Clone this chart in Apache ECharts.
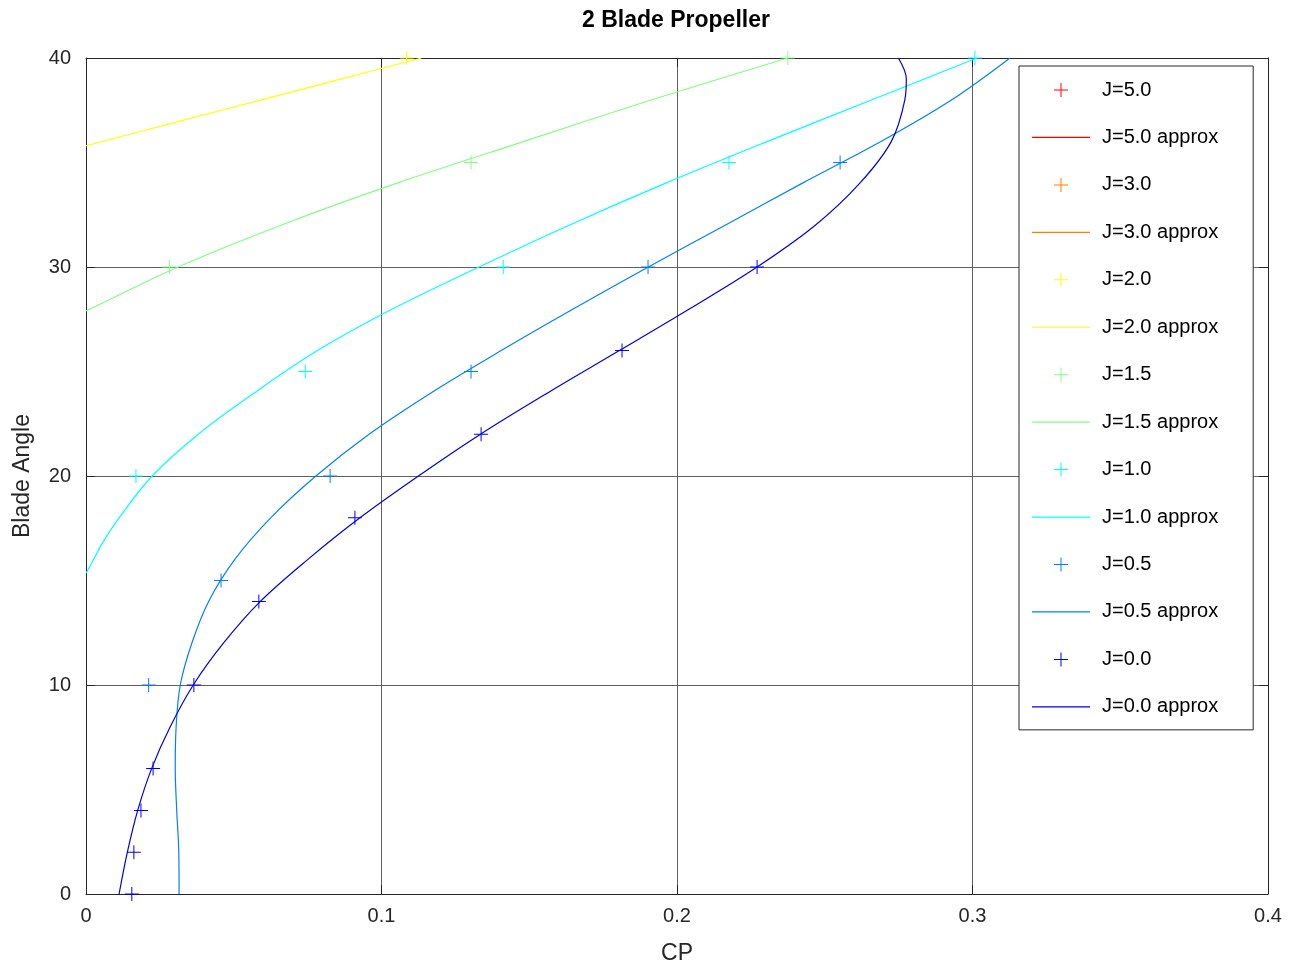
<!DOCTYPE html>
<html>
<head>
<meta charset="utf-8">
<script src="https://cdn.jsdelivr.net/npm/echarts@6/dist/echarts.min.js"></script>
<style>
html,body{margin:0;padding:0;background:#fff;}
#chart{width:1301px;height:970px;}
</style>
</head>
<body>
<div id="chart"></div>
<script>
// ---- data (CP, blade angle in degrees) ----
const xTicks = [0, 0.1, 0.2, 0.3, 0.4];
const yTicks = [0, 10, 20, 30, 40];

// measured points (markers)
const j50Cp = [];            const j50Ang = [];
const j30Cp = [];            const j30Ang = [];
const j20Cp = [0.1085];      const j20Ang = [40];
const j15Cp = [0.0282, 0.1303, 0.2375];
const j15Ang = [30, 35, 40];
const j10Cp = [0.0169, 0.0742, 0.1412, 0.2176, 0.3008];
const j10Ang = [20, 25, 30, 35, 40];
const j05Cp = [0.0212, 0.0457, 0.0826, 0.1303, 0.1902, 0.2552];
const j05Ang = [10, 15, 20, 25, 30, 35];
const j00Cp = [0.0155, 0.0162, 0.0186, 0.0227, 0.0365, 0.0585, 0.0910, 0.1337, 0.1814, 0.2271];
const j00Ang = [0, 2, 4, 6, 10, 14, 18, 22, 26, 30];

// approximation curves
const a50Cp = [];  const a50Ang = [];
const a30Cp = [];  const a30Ang = [];
const a20Cp = [0, 0.0324, 0.0594, 0.0864, 0.1135];
const a20Ang = [35.8, 37, 38, 39, 40];
const a15Cp = [0, 0.0015, 0.0312, 0.0660, 0.1050, 0.1480, 0.1915, 0.2375];
const a15Ang = [27.9, 28, 30, 32, 34, 36, 38, 40];
const a10Cp = [0, 0.0018, 0.0056, 0.0112, 0.0224, 0.0380, 0.0572, 0.0783, 0.1038, 0.1330, 0.1635, 0.1960, 0.2305, 0.2660, 0.3015];
const a10Ang = [15.35, 15.8, 16.8, 18, 20, 22, 24, 26, 28, 30, 32, 34, 36, 38, 40];
const a05Cp = [0.0315, 0.0314, 0.0307, 0.0302, 0.0305, 0.0319, 0.0358, 0.0415, 0.0503, 0.0625, 0.0778, 0.0958, 0.1170, 0.1405, 0.1650, 0.1903, 0.2163, 0.2423, 0.2690, 0.2930, 0.3127];
const a05Ang = [0, 2, 4, 6, 8, 10, 12, 14, 16, 18, 20, 22, 24, 26, 28, 30, 32, 34, 36, 38, 40];
const a00Cp = [0.0112, 0.0140, 0.0175, 0.0222, 0.0285, 0.0363, 0.0465, 0.0590, 0.0750, 0.0927, 0.1125, 0.1335, 0.1565, 0.1805, 0.2043, 0.2271, 0.2468, 0.2618, 0.2725, 0.2771, 0.2776, 0.2749];
const a00Ang = [0, 2, 4, 6, 8, 10, 12, 14, 16, 18, 20, 22, 24, 26, 28, 30, 32, 34, 36, 38, 39, 40];

const names = ['J=5.0', 'J=3.0', 'J=2.0', 'J=1.5', 'J=1.0', 'J=0.5', 'J=0.0'];
const colors = ['#ff0000', '#ff8000', '#ffff00', '#80ff80', '#00ffff', '#0080ff', '#0000ff'];
const lineColors = ['#ff0000', '#ff8000', '#ffff00', '#80ff80', '#00ffff', '#0080ff', '#0000dd'];
const markCp = [j50Cp, j30Cp, j20Cp, j15Cp, j10Cp, j05Cp, j00Cp];
const markAng = [j50Ang, j30Ang, j20Ang, j15Ang, j10Ang, j05Ang, j00Ang];
const apxCp = [a50Cp, a30Cp, a20Cp, a15Cp, a10Cp, a05Cp, a00Cp];
const apxAng = [a50Ang, a30Ang, a20Ang, a15Ang, a10Ang, a05Ang, a00Ang];

const zip = (xs, ys) => xs.map((x, i) => [x, ys[i]]);
const plus = 'path://M6.5,0h1v6.5h6.5v1h-6.5v6.5h-1v-6.5h-6.5v-1h6.5z';
const dash = 'path://M0,0H58V1.2H0Z';

const series = [];
const legendData = [];
names.forEach((n, k) => {
  series.push({
    name: n, type: 'scatter', data: zip(markCp[k], markAng[k]),
    symbol: plus, symbolSize: 14, symbolKeepAspect: true, clip: false,
    itemStyle: { color: colors[k], opacity: 1 }, z: 3
  });
  series.push({
    name: n + ' approx', type: 'line', data: zip(apxCp[k], apxAng[k]),
    symbol: 'none', smooth: 0.35, clip: true,
    lineStyle: { color: lineColors[k], width: 1.2 }, itemStyle: { color: lineColors[k] }, z: 2
  });
  legendData.push({ name: n }, { name: n + ' approx', icon: dash, itemStyle: { color: lineColors[k], borderWidth: 0 } });
});

const axisCol = '#262626';
const gridCol = '#606060';
const font = '"Liberation Sans", Arial, sans-serif';

const chart = echarts.init(document.getElementById('chart'), null, { renderer: 'canvas' });
chart.setOption({
  animation: false,
  backgroundColor: '#ffffff',
  title: {
    text: '2 Blade Propeller', left: 582, top: 9, padding: 0,
    textStyle: { fontFamily: font, fontWeight: 'bold', fontSize: 23, color: '#000' }
  },
  grid: { left: 86, right: 33, top: 58, bottom: 76, containLabel: false },
  legend: {
    orient: 'vertical', left: 1019, top: 66,
    data: legendData,
    itemWidth: 58, itemHeight: 14, itemGap: 27.45,
    padding: [14, 35, 13, 13],
    backgroundColor: '#ffffff', borderColor: '#262626', borderWidth: 1, borderRadius: 0,
    symbolKeepAspect: true,
    textStyle: { fontFamily: font, fontSize: 20, color: '#000', lineHeight: 20, padding: [0, 0, 0, 7] },
    selectedMode: false
  },
  xAxis: [{
    type: 'value', min: xTicks[0], max: xTicks[xTicks.length - 1], interval: 0.1,
    name: 'CP', nameLocation: 'middle', nameGap: 48,
    nameTextStyle: { fontFamily: font, fontSize: 23, color: axisCol },
    axisLine: { show: true, onZero: false, lineStyle: { color: axisCol, width: 1 } },
    axisTick: { show: true, inside: true, length: 9, lineStyle: { color: axisCol } },
    axisLabel: { fontFamily: font, fontSize: 20, color: axisCol, margin: 12 },
    splitLine: { show: true, lineStyle: { color: gridCol, width: 1 } }
  }, {
    type: 'value', position: 'top', min: xTicks[0], max: xTicks[xTicks.length - 1], interval: 0.1,
    axisLine: { show: true, onZero: false, lineStyle: { color: axisCol, width: 1 } },
    axisTick: { show: true, inside: true, length: 9, lineStyle: { color: axisCol } },
    axisLabel: { show: false }, splitLine: { show: false }
  }],
  yAxis: [{
    type: 'value', min: yTicks[0], max: yTicks[yTicks.length - 1], interval: 10,
    name: 'Blade Angle', nameLocation: 'middle', nameGap: 52, nameRotate: 90,
    nameTextStyle: { fontFamily: font, fontSize: 23, color: axisCol },
    axisLine: { show: true, onZero: false, lineStyle: { color: axisCol, width: 1 } },
    axisTick: { show: true, inside: true, length: 9, lineStyle: { color: axisCol } },
    axisLabel: { fontFamily: font, fontSize: 20, color: axisCol, margin: 15 },
    splitLine: { show: true, lineStyle: { color: gridCol, width: 1 } }
  }, {
    type: 'value', position: 'right', min: yTicks[0], max: yTicks[yTicks.length - 1], interval: 10,
    axisLine: { show: true, onZero: false, lineStyle: { color: axisCol, width: 1 } },
    axisTick: { show: true, inside: true, length: 9, lineStyle: { color: axisCol } },
    axisLabel: { show: false }, splitLine: { show: false }
  }],
  series: series
});
</script>
</body>
</html>
